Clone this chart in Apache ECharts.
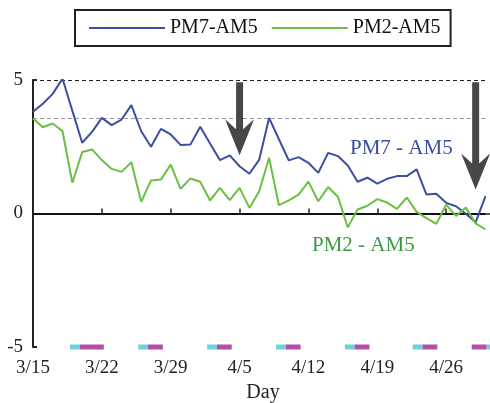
<!DOCTYPE html>
<html>
<head>
<meta charset="utf-8">
<script src="https://cdn.jsdelivr.net/npm/echarts@6/dist/echarts.min.js"></script>
<style>html,body{margin:0;padding:0;background:#fff}#c{width:490px;height:403px}</style>
</head>
<body>
<div id="c"></div>
<script>
// Day index 0 = 3/15
const days = Array.from({length: 47}, (_, i) => i);
const pm7am5 = [3.81,4.11,4.48,5.05,3.85,2.65,3.06,3.58,3.31,3.52,4.06,3.08,2.50,3.17,2.96,2.57,2.58,3.25,2.62,2.00,2.18,1.77,1.49,2.02,3.58,2.78,1.99,2.11,1.90,1.52,2.27,2.15,1.80,1.19,1.34,1.12,1.30,1.40,1.40,1.65,0.71,0.74,0.40,0.27,-0.01,-0.33,0.65];
const pm2am5 = [3.56,3.23,3.37,3.08,1.15,2.30,2.40,2.00,1.67,1.56,1.92,0.44,1.24,1.27,1.83,0.92,1.31,1.19,0.49,0.96,0.50,0.96,0.21,0.83,2.09,0.31,0.49,0.71,1.19,0.46,0.99,0.63,-0.52,0.15,0.29,0.54,0.41,0.17,0.60,0.06,-0.17,-0.39,0.33,-0.09,0.22,-0.37,-0.60];
const xTickLabels = {0:'3/15',7:'3/22',14:'3/29',21:'4/5',28:'4/12',35:'4/19',42:'4/26'};
const yTickLabels = {'-5':'-5','0':'0','5':'5'};
// period markers along the day axis: [start day, end day]
const cyanPeriods = [[3.76,4.78],[10.7,11.7],[17.7,18.7],[24.7,25.7],[31.7,32.7],[38.6,39.6],[46.1,47]];
const magentaPeriods = [[4.78,7.2],[11.7,13.2],[18.7,20.2],[25.7,27.2],[32.7,34.2],[39.6,41.1],[44.6,46.1]];
// arrows: [day, from value, to value]
const arrows = [[21,4.92,2.18],[45,4.92,0.90]];
const refUpper = 5;
const refMean = 3.55;
const lastDay = 46;

const FONT = 'Liberation Serif';
const chart = echarts.init(document.getElementById('c'), null, {renderer:'canvas'});

function periodSeries(periods, color){
  return {
    type:'custom', silent:true, clip:false, z:5,
    data: periods.map(p => [p[0], p[1], -5]),
    renderItem: function(params, api){
      const a = api.coord([api.value(0), api.value(2)]);
      const b = api.coord([api.value(1), api.value(2)]);
      return {type:'rect', shape:{x:a[0], y:a[1]-2.5, width:b[0]-a[0], height:5}, style:{fill:color}};
    }
  };
}

const option = {
  animation:false,
  backgroundColor:'#fff',
  legend:{
    left:75, top:10,
    padding:[8,10,8,14],
    itemGap:14, itemWidth:76, itemHeight:2,
    icon:'rect',
    borderColor:'#222', borderWidth:2,
    textStyle:{fontFamily:FONT, fontSize:20, color:'#111'},
    data:['PM7-AM5','PM2-AM5']
  },
  grid:{left:33, right:-25, top:80, bottom:56, containLabel:false, outerBoundsMode:'none'},
  xAxis:{
    type:'value', min:0, max:49, interval:7,
    name:'Day', nameLocation:'middle', nameGap:26,
    nameTextStyle:{fontFamily:FONT, fontSize:20, color:'#222', padding:[0,22,0,0]},
    axisLine:{lineStyle:{color:'#222', width:1.5}},
    axisTick:{inside:true, length:5, lineStyle:{color:'#222', width:1.5}},
    axisLabel:{fontFamily:FONT, fontSize:19, color:'#222', margin:12,
      formatter:v => xTickLabels[v] || ''},
    splitLine:{show:false}
  },
  yAxis:{
    type:'value', min:-5, max:5, interval:5,
    axisLine:{show:true, lineStyle:{color:'#222', width:2}},
    axisTick:{show:true, inside:true, length:4, lineStyle:{color:'#222', width:2}},
    axisLabel:{fontFamily:FONT, fontSize:19, color:'#222', margin:10,
      formatter:v => yTickLabels[String(v)] || ''},
    splitLine:{show:false}
  },
  series:[
    {
      name:'PM7-AM5', type:'line', symbol:'none', z:3,
      data: days.map((d,i)=>[d, pm7am5[i]]),
      lineStyle:{color:'#3b4ea0', width:2}, itemStyle:{color:'#3b4ea0'},
      markLine:{
        silent:true, symbol:'none', label:{show:false}, z:1,
        data:[
          [{coord:[0,refUpper], lineStyle:{color:'#222', type:[4,3], width:1}}, {coord:[lastDay,refUpper]}],
          [{coord:[0,refMean], lineStyle:{color:'#999', type:[4,3], width:1}}, {coord:[lastDay,refMean]}],
          [{coord:[0,0], lineStyle:{color:'#111', type:'solid', width:2}}, {coord:[lastDay,0]}]
        ]
      }
    },
    {
      name:'PM2-AM5', type:'line', symbol:'none', z:3,
      data: days.map((d,i)=>[d, pm2am5[i]]),
      lineStyle:{color:'#6cbf45', width:2}, itemStyle:{color:'#6cbf45'}
    },
    periodSeries(cyanPeriods, '#6dd0dc'),
    periodSeries(magentaPeriods, '#b14ea8'),
    {
      type:'custom', silent:true, clip:false, z:6,
      data: arrows,
      renderItem: function(params, api){
        const top = api.coord([api.value(0), api.value(1)]);
        const tip = api.coord([api.value(0), api.value(2)]);
        const x = top[0], hl = 36, hw = 14.5, sw = 3.5;
        const back = tip[1]-hl, notch = tip[1]-hl*0.75;
        return {type:'polygon', shape:{points:[
          [x-sw, top[1]], [x+sw, top[1]], [x+sw, notch+1], [x+hw, back], [x, tip[1]],
          [x-hw, back], [x-sw, notch+1]
        ]}, style:{fill:'#474747'}};
      }
    }
  ],
  graphic:[
    {type:'text', left:350, top:138, style:{text:'PM7 - AM5', fontFamily:FONT, fontSize:21, fill:'#3b4ea0'}},
    {type:'text', left:312, top:235, style:{text:'PM2 - AM5', fontFamily:FONT, fontSize:21, fill:'#3c9a44'}}
  ]
};
chart.setOption(option);
</script>
</body>
</html>
